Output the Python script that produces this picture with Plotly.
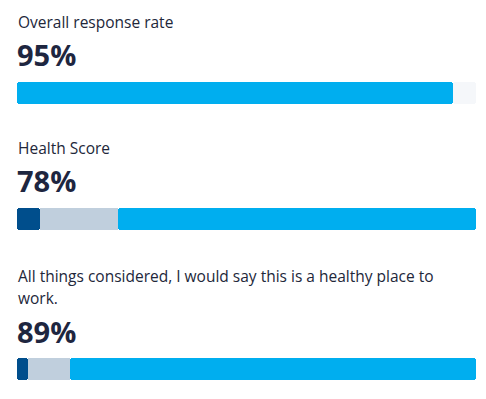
import plotly.graph_objects as go

# ---- data ----
title_lines = [["Overall response rate"], ["Health Score"],
               ["All things considered, I would say this is a healthy place to", "work."]]
score_labels = ["95%", "78%", "89%"]
unfavorable = [0, 5, 2.5]
neutral = [0, 17, 9]
favorable = [95, 78, 88.5]
remaining = [5, 0, 0]

# ---- style ----
OFF = 8  # page body margin
W, H = 486 - OFF, 399 - OFF
C_DARK = "#004e8c"
C_GRAY = "#c0cfdd"
C_BLUE = "#00aeef"
C_TRACK = "#f5f7fa"
TXT_LABEL = "#22273a"
TXT_SCORE = "#1e2640"
FONT = "Open Sans"
RADIUS = 3

bar_top_px = [82, 208, 358]
bar_h_px = 22
label_line_px = [[22], [148], [275.5, 298]]
score_px = [55, 181, 331]
left_px, right_px = 17, 476

def px_x(p):
    return (p - OFF) / W

def py(p):
    return 1 - (p - OFF) / H

fig = go.Figure()
cat = ["x"]
for i in range(3):
    yname = "y" if i == 0 else f"y{i+1}"
    u, n, f, r = unfavorable[i], neutral[i], favorable[i], remaining[i]
    if u > 0:
        fig.add_trace(go.Bar(y=cat, x=[-u], base=[u], orientation="h", yaxis=yname,
                             marker=dict(color=C_DARK, cornerradius=RADIUS, line_width=0),
                             hoverinfo="skip", showlegend=False))
    if n > 0:
        fig.add_trace(go.Bar(y=cat, x=[n], base=[u], orientation="h", yaxis=yname,
                             marker=dict(color=C_GRAY, cornerradius=0, line_width=0),
                             hoverinfo="skip", showlegend=False))
    if r > 0:
        fig.add_trace(go.Bar(y=cat, x=[-f], base=[u + n + f], orientation="h", yaxis=yname,
                             marker=dict(color=C_BLUE, cornerradius=RADIUS, line_width=0),
                             hoverinfo="skip", showlegend=False))
        fig.add_trace(go.Bar(y=cat, x=[r], base=[u + n + f], orientation="h", yaxis=yname,
                             marker=dict(color=C_TRACK, cornerradius=RADIUS, line_width=0),
                             hoverinfo="skip", showlegend=False))
    else:
        fig.add_trace(go.Bar(y=cat, x=[f], base=[u + n], orientation="h", yaxis=yname,
                             marker=dict(color=C_BLUE, cornerradius=RADIUS, line_width=0),
                             hoverinfo="skip", showlegend=False))

annotations = []
for i in range(3):
    for line, ypx in zip(title_lines[i], label_line_px[i]):
        annotations.append(dict(text=line, xref="paper", yref="paper", x=px_x(left_px - 1), y=py(ypx),
                                xanchor="left", yanchor="middle", showarrow=False,
                                font=dict(family=FONT, size=15.5, color=TXT_LABEL)))
    annotations.append(dict(text=f"<b>{score_labels[i]}</b>", xref="paper", yref="paper",
                            x=px_x(left_px - 2), y=py(score_px[i]), xanchor="left", yanchor="middle",
                            showarrow=False, font=dict(family=FONT, size=29, color=TXT_SCORE)))

layout = dict(
    width=W, height=H, margin=dict(l=0, r=0, t=0, b=0),
    paper_bgcolor="white", plot_bgcolor="white",
    barmode="overlay", bargap=0,
    xaxis=dict(domain=[px_x(left_px), px_x(right_px)], range=[0, 100], visible=False, fixedrange=True),
    annotations=annotations, showlegend=False,
)
for i in range(3):
    key = "yaxis" if i == 0 else f"yaxis{i+1}"
    top = py(bar_top_px[i])
    bot = py(bar_top_px[i] + bar_h_px)
    layout[key] = dict(domain=[bot, top], range=[-0.5, 0.5], visible=False, fixedrange=True,
                       anchor="x")
fig.update_layout(**layout)
fig.write_html("out.html")
